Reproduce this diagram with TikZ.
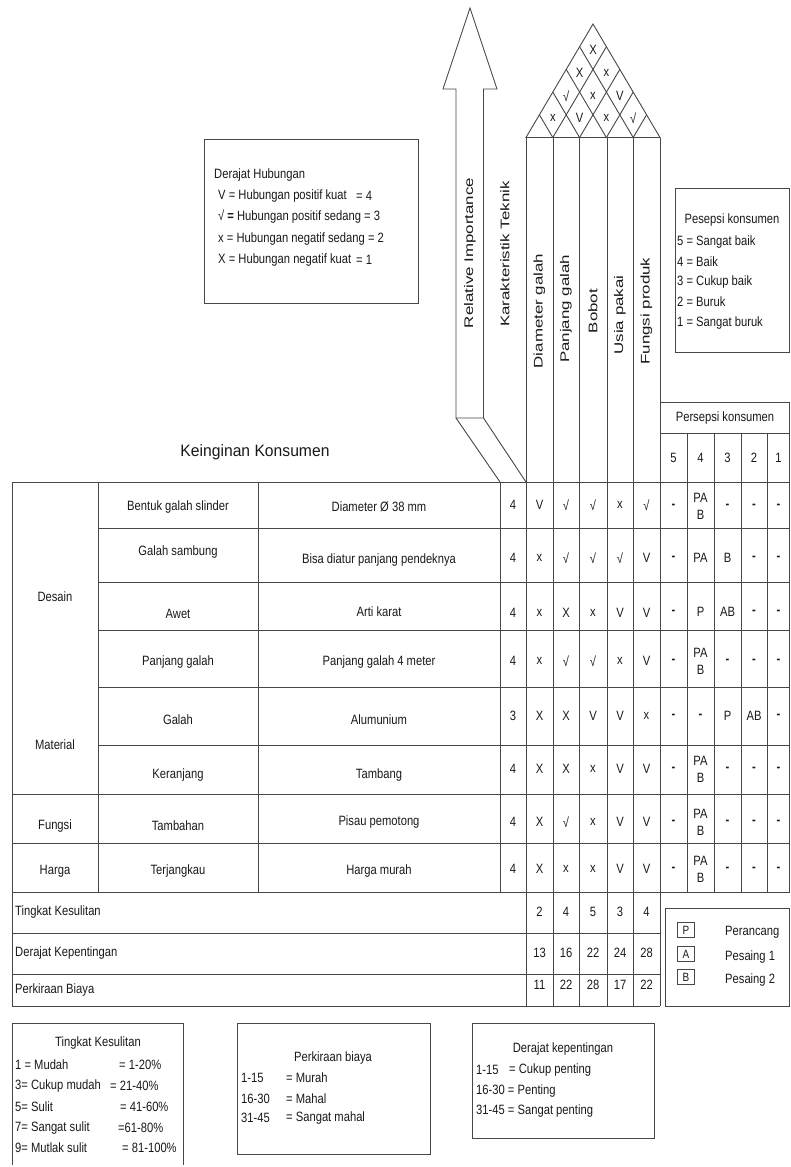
\documentclass[tikz,border=0pt]{standalone}
\usepackage{fontspec}
\setmainfont{Liberation Sans}[FakeStretch=0.83]
\newfontfamily\widefont{Liberation Sans}[FakeStretch=1.35]
\newfontfamily\headfont{Liberation Sans}[FakeStretch=0.95]
\newcommand\dsh{\textbf{-}}
% importance + technical values of one row
\newcommand\qrow[8]{%
  \node[txt] (m#1-0) at (513,#2) {#3};
  \node[txt] (m#1-1) at (539.5,#2) {#4};
  \node[txt] (m#1-2) at (566,#2) {#5};
  \node[txt] (m#1-3) at (593,#2) {#6};
  \node[txt] (m#1-4) at (620,#2) {#7};
  \node[txt] (m#1-5) at (646.5,#2) {#8};}
% consumer perception values of one row
\newcommand\prow[7]{%
  \node[txt] (p#1-5) at (673.5,#2) {#3};
  \node[txt] (p#1-4) at (700.5,#2) {#4};
  \node[txt] (p#1-3) at (727.5,#2) {#5};
  \node[txt] (p#1-2) at (754,#2) {#6};
  \node[txt] (p#1-1) at (778.5,#2) {#7};}
\begin{document}
\begin{tikzpicture}[x=1pt,y=-1pt,
  ln/.style={draw=black!72,line width=0.9pt},
  txt/.style={inner sep=0pt,text=black!90,align=center,font=\fontsize{13.5}{17}\selectfont},
  ltxt/.style={txt,anchor=west,align=left},
  vtxt/.style={inner sep=0pt,text=black!90,rotate=90,font=\widefont\fontsize{12.5}{14}\selectfont},
  sbox/.style={ln,line width=0.8pt,minimum width=17pt,minimum height=15pt,inner sep=0pt,text=black!90,font=\fontsize{12}{14}\selectfont}]
\useasboundingbox (0,0) rectangle (790,1167);

% ---------- Relative importance arrow ----------
\draw[ln] (456,418) -- (456,89) -- (443,89) -- (470,8) -- (497,89) -- (483.5,89) -- (483.5,418) -- cycle;
\draw[ln] (456,418) -- (500,482);
\draw[ln] (483.5,418) -- (526,482);
\node[vtxt] (relimp) at (470,253) {Relative Importance};
\node[vtxt] (kartek) at (505,254) {Karakteristik Teknik};

% ---------- Roof ----------
\draw[ln] (526,137.5) -- (593,24) -- (660,137.5) -- cycle;
\foreach \i in {1,...,4}{
  \draw[ln] ({526+26.8*\i},137.5) -- ({526+13.4*\i},{137.5-22.7*\i});
  \draw[ln] ({526+26.8*\i},137.5) -- ({660-13.4*(5-\i)},{137.5-22.7*(5-\i)});
}
\node[txt] (r41) at (593,50) {X};
\node[txt] (r31) at (579.6,73) {X};
\node[txt] (r32) at (606.4,73) {x};
\node[txt] (r21) at (566.2,96) {√};
\node[txt] (r22) at (593,96) {x};
\node[txt] (r23) at (619.8,96) {V};
\node[txt] (r11) at (552.8,118) {x};
\node[txt] (r12) at (579.6,118) {V};
\node[txt] (r13) at (606.4,118) {x};
\node[txt] (r14) at (633.2,118) {√};

% ---------- Technical columns ----------
\foreach \x in {553,579.5,607,633}{ \draw[ln] (\x,137.5) -- (\x,1006); }
\draw[ln] (526,137.5) -- (526,1006);
\draw[ln] (660,137.5) -- (660,1006);
\node[vtxt] (t1) at (539.5,311) {Diameter galah};
\node[vtxt] (t2) at (566,309) {Panjang galah};
\node[vtxt] (t3) at (593,311) {Bobot};
\node[vtxt] (t4) at (620,315) {Usia pakai};
\node[vtxt] (t5) at (646.5,311) {Fungsi produk};

% ---------- Consumer perception header ----------
\draw[ln] (660,402) -- (789.5,402) -- (789.5,892);
\draw[ln] (660,433) -- (789.5,433);
\foreach \x in {687,714,741,767}{ \draw[ln] (\x,433) -- (\x,892); }
\node[txt] (psh) at (725,418) {Persepsi konsumen};
\node[txt] (ps5) at (673.5,458) {5};
\node[txt] (ps4) at (700.5,458) {4};
\node[txt] (ps3) at (727.5,458) {3};
\node[txt] (ps2) at (754,458) {2};
\node[txt] (ps1) at (778.5,458) {1};

\node[txt,font=\headfont\fontsize{16.5}{18}\selectfont] (kk) at (255,452) {Keinginan Konsumen};

% ---------- Main table ----------
\draw[ln] (12,482) -- (789.5,482);
\foreach \y in {528,582,630,687,745}{ \draw[ln] (98,\y) -- (789.5,\y); }
\foreach \y in {794,843,892}{ \draw[ln] (12,\y) -- (789.5,\y); }
\draw[ln] (12,482) -- (12,1006);
\foreach \x in {98,258,500}{ \draw[ln] (\x,482) -- (\x,892); }
\foreach \y in {933,974,1006}{ \draw[ln] (12,\y) -- (660,\y); }

\node[txt] (g1) at (55,597) {Desain};
\node[txt] (g2) at (55,745) {Material};
\node[txt] (g3) at (55,826) {Fungsi};
\node[txt] (g4) at (55,871) {Harga};

\node[txt] (k1) at (178,507) {Bentuk galah slinder};
\node[txt] (k2) at (178,552) {Galah sambung};
\node[txt] (k3) at (178,614) {Awet};
\node[txt] (k4) at (178,662) {Panjang galah};
\node[txt] (k5) at (178,720) {Galah};
\node[txt] (k6) at (178,775) {Keranjang};
\node[txt] (k7) at (178,826) {Tambahan};
\node[txt] (k8) at (178,871) {Terjangkau};

\node[txt] (s1) at (379,507) {Diameter Ø 38 mm};
\node[txt] (s2) at (379,560) {Bisa diatur panjang pendeknya};
\node[txt] (s3) at (379,612) {Arti karat};
\node[txt] (s4) at (379,662) {Panjang galah 4 meter};
\node[txt] (s5) at (379,720) {Alumunium};
\node[txt] (s6) at (379,775) {Tambang};
\node[txt] (s7) at (379,822) {Pisau pemotong};
\node[txt] (s8) at (379,871) {Harga murah};

\qrow{1}{505}{4}{V}{√}{√}{x}{√}
\qrow{2}{558}{4}{x}{√}{√}{√}{V}
\qrow{3}{613}{4}{x}{X}{x}{V}{V}
\qrow{4}{661}{4}{x}{√}{√}{x}{V}
\qrow{5}{716}{3}{X}{X}{V}{V}{x}
\qrow{6}{769}{4}{X}{X}{x}{V}{V}
\qrow{7}{822}{4}{X}{√}{x}{V}{V}
\qrow{8}{869}{4}{X}{x}{x}{V}{V}

\prow{1}{506}{\dsh}{PA\\B}{\dsh}{\dsh}{\dsh}
\prow{2}{558}{\dsh}{PA}{B}{\dsh}{\dsh}
\prow{3}{612}{\dsh}{P}{AB}{\dsh}{\dsh}
\prow{4}{661}{\dsh}{PA\\B}{\dsh}{\dsh}{\dsh}
\prow{5}{716}{\dsh}{\dsh}{P}{AB}{\dsh}
\prow{6}{769}{\dsh}{PA\\B}{\dsh}{\dsh}{\dsh}
\prow{7}{822}{\dsh}{PA\\B}{\dsh}{\dsh}{\dsh}
\prow{8}{869}{\dsh}{PA\\B}{\dsh}{\dsh}{\dsh}

% ---------- Bottom rows ----------
\node[ltxt] (b1) at (15,912) {Tingkat Kesulitan};
\node[ltxt] (b2) at (15,953) {Derajat Kepentingan};
\node[ltxt] (b3) at (15,990) {Perkiraan Biaya};
\foreach \x/\a/\b/\c [count=\j] in {539.5/2/13/11, 566/4/16/22, 593/5/22/28, 620/3/24/17, 646.5/4/28/22}{
  \node[txt] (tk\j) at (\x,912) {\a};
  \node[txt] (dk\j) at (\x,953) {\b};
  \node[txt] (pb\j) at (\x,985) {\c};
}

% ---------- Legend P / A / B ----------
\draw[ln] (665,1006) -- (665,908) -- (789.5,908) -- (789.5,1006) -- cycle;
\node[sbox] (lp) at (686,930) {P};
\node[sbox] (la) at (686,954) {A};
\node[sbox] (lb) at (686,977) {B};
\node[ltxt] (lpt) at (725,932) {Perancang};
\node[ltxt] (lat) at (725,957) {Pesaing 1};
\node[ltxt] (lbt) at (725,980) {Pesaing 2};

% ---------- Legend Derajat Hubungan ----------
\draw[ln] (204.5,139) rectangle (418.5,303);
\node[ltxt] (dh0) at (214,175) {Derajat Hubungan};
\node[ltxt] (dh1) at (218,196) {V = Hubungan positif kuat};
\node[ltxt] (dh1v) at (356,196) {= 4};
\node[ltxt] (dh2) at (218,217) {√ \textbf{=} Hubungan positif sedang  = 3};
\node[ltxt] (dh3) at (218,239) {x = Hubungan negatif sedang = 2};
\node[ltxt] (dh4) at (218,260) {X = Hubungan negatif kuat};
\node[ltxt] (dh4v) at (356,260) {= 1};

% ---------- Legend Pesepsi konsumen ----------
\draw[ln] (675,188) -- (675,352) -- (789.5,352) -- (789.5,188) -- cycle;
\node[txt] (pk0) at (732,220) {Pesepsi konsumen};
\node[ltxt] (pk5) at (677,242) {5 = Sangat baik};
\node[ltxt] (pk4) at (677,262) {4 = Baik};
\node[ltxt] (pk3) at (677,282) {3 = Cukup baik};
\node[ltxt] (pk2) at (677,302) {2 = Buruk};
\node[ltxt] (pk1) at (677,323) {1 = Sangat buruk};

% ---------- Legend Tingkat Kesulitan ----------
\draw[ln] (12,1165) -- (12,1023) -- (183,1023) -- (183,1165);
\node[txt] (tl0) at (98,1043) {Tingkat Kesulitan};
\node[ltxt] (tl1) at (15,1065) {1 = Mudah};
\node[ltxt] (tl1v) at (119,1065) {= 1-20\%};
\node[ltxt] (tl2) at (15,1086) {3= Cukup mudah};
\node[ltxt] (tl2v) at (110,1086) {= 21-40\%};
\node[ltxt] (tl3) at (15,1107) {5= Sulit};
\node[ltxt] (tl3v) at (120,1107) {= 41-60\%};
\node[ltxt] (tl4) at (15,1128) {7= Sangat sulit};
\node[ltxt] (tl4v) at (118,1128) {=61-80\%};
\node[ltxt] (tl5) at (15,1148) {9= Mutlak sulit};
\node[ltxt] (tl5v) at (122,1148) {= 81-100\%};

% ---------- Legend Perkiraan biaya ----------
\draw[ln] (237,1023) rectangle (430,1154);
\node[txt] (pl0) at (333,1058) {Perkiraan biaya};
\node[ltxt] (pl1) at (241,1078) {1-15};
\node[ltxt] (pl1v) at (286,1078) {= Murah};
\node[ltxt] (pl2) at (241,1099) {16-30};
\node[ltxt] (pl2v) at (286,1099) {= Mahal};
\node[ltxt] (pl3) at (241,1118) {31-45};
\node[ltxt] (pl3v) at (286,1118) {= Sangat mahal};

% ---------- Legend Derajat kepentingan ----------
\draw[ln] (472,1023) rectangle (654,1138);
\node[txt] (kl0) at (563,1049) {Derajat kepentingan};
\node[ltxt] (kl1) at (476,1070) {1-15};
\node[ltxt] (kl1v) at (509,1070) {= Cukup penting};
\node[ltxt] (kl2) at (476,1091) {16-30 = Penting};
\node[ltxt] (kl3) at (476,1111) {31-45 = Sangat penting};
\end{tikzpicture}
\end{document}
